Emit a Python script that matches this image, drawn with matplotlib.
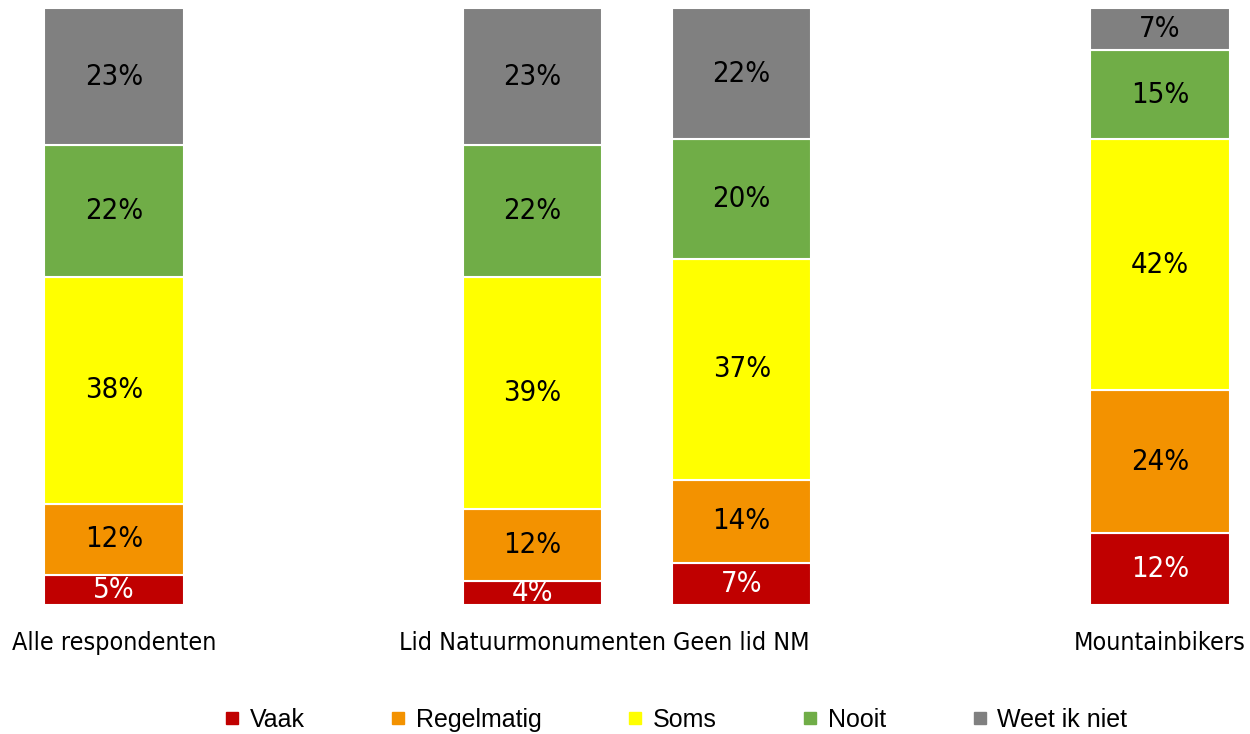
import matplotlib
matplotlib.use("Agg")
import matplotlib.pyplot as plt
from matplotlib.lines import Line2D
import numpy as np

# Data
groups = ["Alle respondenten", "Lid Natuurmonumenten", "Geen lid NM", "Mountainbikers"]
positions = [0, 2, 3, 5]
answers = ["Vaak", "Regelmatig", "Soms", "Nooit", "Weet ik niet"]
vaak = [5, 4, 7, 12]
regelmatig = [12, 12, 14, 24]
soms = [38, 39, 37, 42]
nooit = [22, 22, 20, 15]
weet_niet = [23, 23, 22, 7]

COLORS = ["#C00000", "#F39200", "#FFFF00", "#70AD47", "#808080"]
TEXT_COLORS = ["white", "black", "black", "black", "black"]

LABEL_FONT = ["DejaVu Sans"]

fig = plt.figure(figsize=(12.5, 7.34), dpi=100)
ax = fig.add_axes([0, 1 - 605 / 734, 1, (605 - 8) / 734])

series = [vaak, regelmatig, soms, nooit, weet_niet]
bottom = np.zeros(len(groups))
for vals, color, tcol in zip(series, COLORS, TEXT_COLORS):
    vals = np.array(vals, dtype=float)
    bars = ax.bar(positions, vals, width=0.665, bottom=bottom, color=color,
                  edgecolor="white", linewidth=1.5)
    labels = [f"{v:.0f}%" for v in vals]
    ax.bar_label(bars, labels=labels, label_type="center", color=tcol,
                 fontsize=21, fontstretch="condensed", family=LABEL_FONT)
    bottom += vals

ax.set_xlim(-0.545, 5.43)
ax.set_ylim(0, 100)
ax.set_xticks(positions)
ax.set_xticklabels(groups, fontsize=18, fontstretch="condensed", family=LABEL_FONT)
ax.tick_params(axis="x", length=0, pad=19)
ax.set_yticks([])
for s in ax.spines.values():
    s.set_visible(False)

handles = [Line2D([], [], marker="s", linestyle="none", markersize=8,
                  markerfacecolor=c, markeredgecolor=c) for c in COLORS]
fig.legend(handles, answers, loc="center", bbox_to_anchor=(676 / 1250, 1 - 720 / 734),
           ncol=5, frameon=False, handlelength=0.6, handletextpad=0.4,
           columnspacing=3.45, prop={"family": "Liberation Sans", "size": 18})

fig.savefig("out.png", dpi=100, facecolor="white")
